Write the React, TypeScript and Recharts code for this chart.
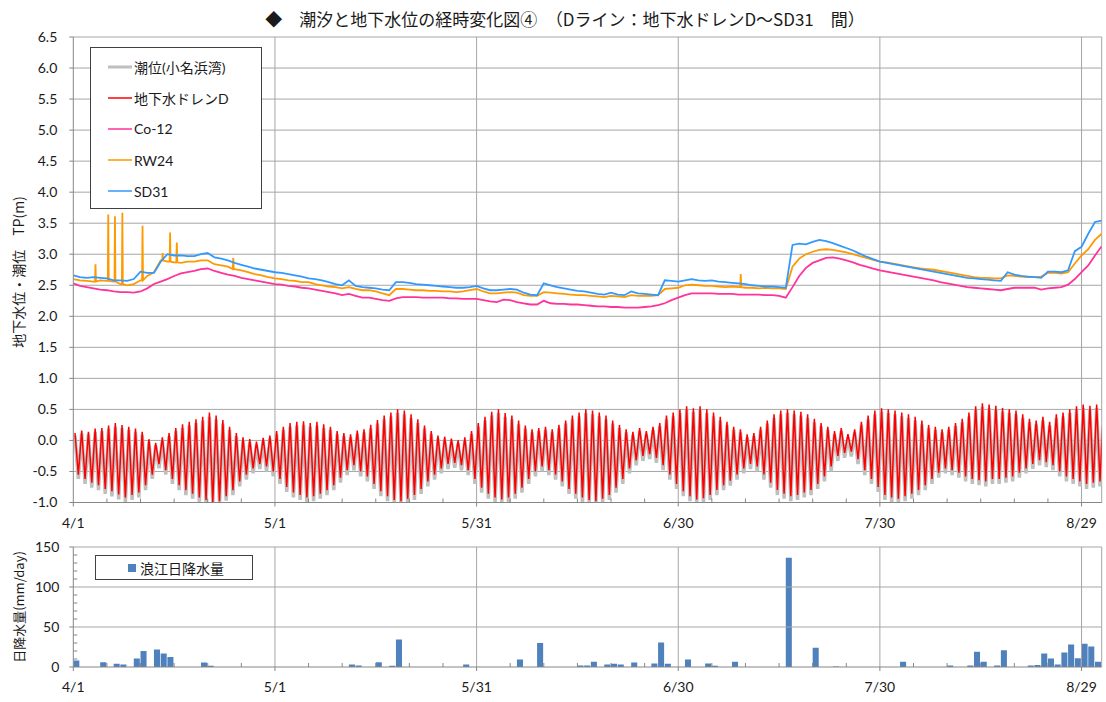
import React from 'react';
import { LineChart, Line, BarChart, Bar, XAxis, YAxis, CartesianGrid, ReferenceLine } from 'recharts';

// days counted from 4/1 (day 0); axis runs to day 153
const majorDays = [0, 30, 60, 90, 120, 150];
const dateLabels = ['4/1', '5/1', '5/31', '6/30', '7/30', '8/29'];
const minorDays = [0, 5, 10, 15, 20, 25, 30, 35, 40, 45, 50, 55, 60, 65, 70, 75, 80, 85, 90, 95, 100, 105, 110, 115, 120, 125, 130, 135, 140, 145, 150];
const levelTicks = [-1, -0.5, 0, 0.5, 1, 1.5, 2, 2.5, 3, 3.5, 4, 4.5, 5, 5.5, 6, 6.5];
const rainTicks = [0, 10, 20, 30, 40, 50, 60, 70, 80, 90, 100, 110, 120, 130, 140, 150];

// 地下水ドレンD: daily high / low (m)
const drainHigh = [
  0.12, 0.16, 0.14, 0.19, 0.2, 0.24, 0.28, 0.25, 0.22, 0.19,
  0.14, 0.02, -0.04, 0.05, 0.12, 0.2, 0.26, 0.3, 0.34, 0.38,
  0.45, 0.4, 0.33, 0.22, 0.12, 0.05, 0.02, -0.02, 0.04, 0.08,
  0.15, 0.22, 0.28, 0.3, 0.31, 0.28, 0.3, 0.26, 0.22, 0.15,
  0.12, 0.1, 0.16, 0.18, 0.25, 0.33, 0.4, 0.45, 0.5, 0.48,
  0.42, 0.34, 0.24, 0.15, 0.08, 0.06, 0.03, 0.0, 0.05, 0.15,
  0.28, 0.38, 0.46, 0.5, 0.44, 0.4, 0.32, 0.24, 0.18, 0.2,
  0.22, 0.18, 0.25, 0.32, 0.4, 0.45, 0.5, 0.48, 0.45, 0.4,
  0.32, 0.25, 0.18, 0.14, 0.2, 0.15, 0.22, 0.28, 0.4, 0.45,
  0.5, 0.55, 0.52, 0.55, 0.5, 0.45, 0.38, 0.3, 0.22, 0.18,
  0.1, 0.12, 0.22, 0.32, 0.42, 0.48, 0.5, 0.48, 0.46, 0.42,
  0.35, 0.28, 0.22, 0.15, 0.2, 0.1, 0.18, 0.3, 0.4, 0.48,
  0.52, 0.5, 0.48, 0.45, 0.42, 0.38, 0.32, 0.25, 0.22, 0.18,
  0.22, 0.28, 0.35, 0.45, 0.55, 0.6, 0.58, 0.56, 0.52, 0.5,
  0.48, 0.42, 0.35, 0.32, 0.38, 0.3, 0.42, 0.45, 0.5, 0.55,
  0.58, 0.56, 0.58, 0.5,
];
const drainLow = [
  -0.55, -0.62, -0.68, -0.72, -0.78, -0.82, -0.87, -0.92, -0.88, -0.84,
  -0.72, -0.55, -0.38, -0.48, -0.62, -0.72, -0.8, -0.86, -0.92, -0.96,
  -1.0, -0.98, -0.9, -0.8, -0.66, -0.55, -0.45, -0.38, -0.42, -0.5,
  -0.62, -0.75, -0.84, -0.88, -0.92, -0.9, -0.86, -0.8, -0.72, -0.6,
  -0.48, -0.4, -0.5, -0.58, -0.7, -0.82, -0.9, -0.96, -0.98, -0.94,
  -0.88, -0.78, -0.66, -0.55, -0.45, -0.38, -0.36, -0.4, -0.48, -0.62,
  -0.76, -0.86, -0.92, -0.95, -0.92, -0.86, -0.76, -0.62, -0.5, -0.42,
  -0.48, -0.55, -0.66, -0.78, -0.86, -0.92, -0.96, -0.98, -0.94, -0.88,
  -0.76, -0.62, -0.45, -0.32, -0.25, -0.22, -0.28, -0.4, -0.55, -0.7,
  -0.82, -0.9, -0.95, -0.93, -0.88, -0.8, -0.72, -0.65, -0.55, -0.45,
  -0.38, -0.42, -0.55, -0.68, -0.8, -0.86, -0.9, -0.88, -0.84, -0.8,
  -0.7, -0.58, -0.42, -0.25, -0.2, -0.18, -0.3, -0.48, -0.62, -0.75,
  -0.88, -0.92, -0.94, -0.9, -0.86, -0.8, -0.72, -0.62, -0.52, -0.45,
  -0.48, -0.52, -0.58, -0.62, -0.64, -0.66, -0.62, -0.62, -0.6, -0.58,
  -0.52, -0.45, -0.38, -0.32, -0.35, -0.4, -0.5, -0.58, -0.62, -0.66,
  -0.7, -0.68, -0.66, -0.55,
];

// 潮位(小名浜湾): daily high / low (m)
const tideHigh = [
  0.08, 0.11, 0.1, 0.14, 0.15, 0.19, 0.22, 0.2, 0.17, 0.14,
  0.09, -0.02, -0.08, 0.0, 0.07, 0.15, 0.2, 0.24, 0.28, 0.32,
  0.38, 0.34, 0.27, 0.17, 0.07, 0.0, -0.03, -0.07, -0.01, 0.03,
  0.1, 0.17, 0.22, 0.24, 0.25, 0.22, 0.24, 0.2, 0.17, 0.1,
  0.07, 0.05, 0.11, 0.13, 0.19, 0.27, 0.34, 0.39, 0.44, 0.42,
  0.36, 0.28, 0.19, 0.1, 0.03, 0.01, -0.02, -0.05, 0.0, 0.1,
  0.22, 0.32, 0.4, 0.44, 0.38, 0.34, 0.26, 0.19, 0.13, 0.15,
  0.17, 0.13, 0.2, 0.27, 0.34, 0.39, 0.44, 0.42, 0.39, 0.34,
  0.27, 0.2, 0.13, 0.09, 0.15, 0.1, 0.17, 0.23, 0.34, 0.39,
  0.44, 0.49, 0.46, 0.49, 0.44, 0.39, 0.32, 0.25, 0.17, 0.13,
  0.05, 0.07, 0.17, 0.27, 0.36, 0.42, 0.44, 0.42, 0.4, 0.36,
  0.29, 0.23, 0.17, 0.1, 0.15, 0.05, 0.13, 0.25, 0.34, 0.42,
  0.46, 0.44, 0.42, 0.39, 0.36, 0.32, 0.26, 0.2, 0.17, 0.13,
  0.17, 0.23, 0.29, 0.39, 0.49, 0.54, 0.52, 0.5, 0.46, 0.44,
  0.42, 0.36, 0.29, 0.26, 0.32, 0.24, 0.36, 0.39, 0.44, 0.49,
  0.52, 0.5, 0.52, 0.44,
];
const tideLow = [
  -0.62, -0.7, -0.76, -0.8, -0.86, -0.9, -0.95, -0.99, -0.96, -0.92,
  -0.8, -0.62, -0.45, -0.55, -0.7, -0.8, -0.88, -0.94, -0.99, -1.0,
  -1.0, -1.0, -0.97, -0.88, -0.74, -0.63, -0.53, -0.46, -0.5, -0.58,
  -0.7, -0.83, -0.92, -0.96, -1.0, -0.98, -0.94, -0.88, -0.8, -0.68,
  -0.56, -0.48, -0.58, -0.66, -0.78, -0.9, -0.98, -1.0, -1.0, -1.0,
  -0.96, -0.86, -0.74, -0.63, -0.53, -0.46, -0.44, -0.48, -0.56, -0.7,
  -0.84, -0.94, -1.0, -1.0, -1.0, -0.94, -0.84, -0.7, -0.58, -0.5,
  -0.56, -0.63, -0.74, -0.86, -0.94, -1.0, -1.0, -1.0, -1.0, -0.96,
  -0.84, -0.7, -0.53, -0.4, -0.33, -0.3, -0.36, -0.48, -0.63, -0.78,
  -0.9, -0.98, -1.0, -1.0, -0.96, -0.88, -0.8, -0.73, -0.63, -0.53,
  -0.46, -0.5, -0.63, -0.76, -0.88, -0.94, -0.98, -0.96, -0.92, -0.88,
  -0.78, -0.66, -0.5, -0.33, -0.28, -0.26, -0.38, -0.56, -0.7, -0.83,
  -0.96, -1.0, -1.0, -0.98, -0.94, -0.88, -0.8, -0.7, -0.6, -0.53,
  -0.56, -0.6, -0.66, -0.7, -0.72, -0.74, -0.7, -0.7, -0.68, -0.66,
  -0.6, -0.53, -0.46, -0.4, -0.43, -0.48, -0.58, -0.66, -0.7, -0.74,
  -0.78, -0.76, -0.74, -0.63,
];

// groundwater, daily (TP m)
const co12 = [
  2.53, 2.49, 2.47, 2.45, 2.43, 2.42, 2.4, 2.39, 2.39, 2.38,
  2.4, 2.45, 2.52, 2.56, 2.6, 2.65, 2.69, 2.71, 2.73, 2.76,
  2.77, 2.73, 2.7, 2.67, 2.65, 2.62, 2.6, 2.58, 2.56, 2.54,
  2.52, 2.51, 2.49, 2.48, 2.46, 2.45, 2.43, 2.41, 2.39, 2.37,
  2.34, 2.36, 2.33, 2.3, 2.3, 2.28, 2.26, 2.25, 2.29, 2.31,
  2.31, 2.31, 2.3, 2.3, 2.3, 2.3, 2.29, 2.29, 2.28, 2.28,
  2.28, 2.26, 2.24, 2.23, 2.27, 2.26, 2.23, 2.21, 2.19, 2.19,
  2.25, 2.21, 2.2, 2.2, 2.19, 2.19, 2.18, 2.17, 2.16, 2.16,
  2.15, 2.15, 2.14, 2.14, 2.14, 2.15, 2.16, 2.18, 2.21, 2.26,
  2.3, 2.34, 2.37, 2.37, 2.37, 2.37, 2.36, 2.36, 2.36, 2.35,
  2.35, 2.35, 2.35, 2.34, 2.34, 2.33, 2.3, 2.47, 2.65, 2.78,
  2.86, 2.9, 2.94, 2.95, 2.93, 2.9, 2.87, 2.83, 2.8, 2.77,
  2.74, 2.72, 2.7, 2.68, 2.66, 2.64, 2.62, 2.6, 2.58, 2.55,
  2.53, 2.51, 2.49, 2.47, 2.46, 2.45, 2.44, 2.43, 2.42, 2.44,
  2.46, 2.46, 2.46, 2.46, 2.43, 2.45, 2.46, 2.47, 2.51, 2.6,
  2.71, 2.82, 2.98, 3.13,
];
const rw24 = [
  2.6, 2.58, 2.57, 2.56, 2.58, 2.57, 2.56, 2.52, 2.5, 2.52,
  2.58, 2.65, 2.71, 2.9, 2.88, 2.87, 2.86, 2.88, 2.88, 2.9,
  2.9, 2.84, 2.82, 2.8, 2.76, 2.74, 2.71, 2.68, 2.66, 2.63,
  2.61, 2.6, 2.58, 2.57, 2.55, 2.55, 2.52, 2.5, 2.48, 2.47,
  2.45, 2.47, 2.44, 2.42, 2.42, 2.4, 2.37, 2.34, 2.44, 2.44,
  2.43, 2.42, 2.42, 2.41, 2.41, 2.4, 2.4, 2.39, 2.4, 2.42,
  2.44, 2.4, 2.37, 2.37, 2.38, 2.39, 2.38, 2.34, 2.33, 2.33,
  2.39, 2.38, 2.37, 2.36, 2.35, 2.34, 2.34, 2.33, 2.32, 2.31,
  2.33, 2.32, 2.31, 2.34, 2.33, 2.33, 2.33, 2.34, 2.44, 2.45,
  2.46, 2.5, 2.51, 2.5, 2.49, 2.49, 2.48, 2.47, 2.48, 2.47,
  2.46, 2.46, 2.45, 2.46, 2.45, 2.45, 2.44, 2.8, 2.93, 3.0,
  3.04, 3.07, 3.08, 3.07, 3.05, 3.03, 3.0, 2.97, 2.94, 2.91,
  2.88, 2.87, 2.85, 2.83, 2.81, 2.79, 2.77, 2.76, 2.75, 2.73,
  2.71, 2.69, 2.67, 2.65, 2.63, 2.62, 2.62, 2.61, 2.61, 2.66,
  2.65, 2.64, 2.63, 2.63, 2.64, 2.7, 2.7, 2.69, 2.71, 2.85,
  2.98, 3.08, 3.23, 3.33,
];
const rw24SpikeDays = [3.3, 5.2, 6.2, 7.3, 10.3, 13.3, 14.4, 15.4, 23.8, 99.3];
const rw24SpikeValues = [2.84, 3.64, 3.61, 3.67, 3.46, 3.02, 3.35, 3.19, 2.94, 2.68];
const sd31 = [
  2.66, 2.63, 2.62, 2.63, 2.62, 2.61, 2.58, 2.58, 2.57, 2.6,
  2.72, 2.7, 2.7, 2.88, 3.0, 2.98, 2.98, 2.97, 2.97, 3.0,
  3.02, 2.95, 2.93, 2.9, 2.86, 2.83, 2.8, 2.77, 2.75, 2.73,
  2.71, 2.7, 2.68, 2.66, 2.64, 2.61, 2.6, 2.58, 2.55, 2.52,
  2.5, 2.58, 2.49, 2.47, 2.46, 2.45, 2.43, 2.42, 2.55, 2.55,
  2.54, 2.52, 2.51, 2.5, 2.49, 2.48, 2.47, 2.46, 2.46, 2.47,
  2.49, 2.45, 2.42, 2.42, 2.43, 2.44, 2.43, 2.38, 2.35, 2.34,
  2.53, 2.5, 2.47, 2.45, 2.43, 2.41, 2.4, 2.38, 2.36, 2.35,
  2.38, 2.35, 2.34, 2.4, 2.37, 2.36, 2.35, 2.34, 2.58, 2.57,
  2.56, 2.58, 2.6, 2.58, 2.57, 2.58, 2.56, 2.55, 2.54, 2.53,
  2.52, 2.5, 2.49, 2.48, 2.48, 2.47, 2.46, 3.15, 3.17, 3.16,
  3.2, 3.23, 3.21, 3.18, 3.14, 3.1, 3.06, 3.01, 2.96, 2.92,
  2.88, 2.86, 2.84, 2.82, 2.8, 2.78, 2.76, 2.74, 2.72, 2.7,
  2.68, 2.66, 2.64, 2.62, 2.61, 2.6, 2.59, 2.58, 2.57, 2.71,
  2.67, 2.65, 2.64, 2.63, 2.62, 2.72, 2.72, 2.71, 2.74, 3.05,
  3.12, 3.33, 3.52, 3.54,
];

// 浪江日降水量 (mm/day)
const rainDays = [0, 4, 6, 7, 9, 10, 12, 13, 14, 19, 20, 41, 42, 45, 47, 48, 58, 66, 69, 75, 76, 77, 79, 80, 81, 83, 86, 87, 88, 91, 94, 95, 98, 106, 110, 113, 123, 130, 133, 134, 135, 137, 138, 142, 143, 144, 145, 146, 147, 148, 149, 150, 151, 152, 153];
const rainMm = [8, 6, 4, 3, 10.5, 20, 22, 17, 12.5, 5.5, 1.5, 3, 2, 6, 1.5, 34.5, 3, 9.5, 30, 2, 2, 6.5, 3, 4, 3, 5.5, 4.5, 30.5, 4, 9.5, 4.5, 1.5, 6.5, 136.5, 24, 0.5, 6.5, 2, 2, 19, 6.5, 2, 21, 2, 2.5, 17, 10.5, 3, 18, 28, 11, 29, 25.5, 6.5, 1];

const NUM_FONT = "Lato, 'Noto Sans CJK JP', sans-serif";
const JP_FONT = "'Noto Sans CJK JP', sans-serif";
const GRID = '#A6A6A6';
const AXIS = '#868686';
const TEXT = '#1a1a1a';

const drainData = drainHigh.flatMap((h, d) => [{ x: d + 0.25, y: h }, { x: d + 0.75, y: drainLow[d] }]);
const tideData = tideHigh.flatMap((h, d) => [{ x: d + 0.25, y: h }, { x: d + 0.75, y: tideLow[d] }]);
const co12Data = co12.map((v, d) => ({ x: d, y: v }));
const sd31Data = sd31.map((v, d) => ({ x: d, y: v }));
const rw24Data = rw24.map((v, d) => ({ x: d, y: v }));
rw24SpikeDays.forEach((d, k) => {
  const base = rw24[Math.round(d)];
  rw24Data.push({ x: d - 0.07, y: base }, { x: d, y: rw24SpikeValues[k] }, { x: d + 0.07, y: base });
});
rw24Data.sort((a, b) => a.x - b.x);
const rainData = rainDays.map((d, i) => ({ x: d + 0.5, mm: rainMm[i] }));

const DateTick = (props: any) => {
  const { x, y, payload } = props;
  const idx = majorDays.indexOf(payload.value);
  if (idx < 0) return <line x1={x} x2={x} y1={y} y2={y - 4} stroke={AXIS} />;
  return (
    <g>
      <line x1={x} x2={x} y1={y} y2={y + 4} stroke={AXIS} />
      <text x={x} y={y + 25} textAnchor="middle" fontSize={14} fill={TEXT} fontFamily={NUM_FONT}>
        {dateLabels[idx]}
      </text>
    </g>
  );
};

const RainTick = (props: any) => {
  const { x, y, payload } = props;
  const v = payload.value;
  if (v % 50 !== 0) return <line x1={x} x2={x + 4} y1={y} y2={y} stroke={AXIS} />;
  return (
    <g>
      <line x1={x - 4} x2={x} y1={y} y2={y} stroke={AXIS} />
      <text x={x - 14} y={y} dy="0.36em" textAnchor="end" fontSize={14} fill={TEXT} fontFamily={NUM_FONT}>
        {v}
      </text>
    </g>
  );
};

const legendItems = [
  { name: '潮位(小名浜湾)', color: '#BFBFBF', width: 3 },
  { name: '地下水ドレンD', color: '#FF0000', width: 1.5 },
  { name: 'Co-12', color: '#FF3399', width: 1.5 },
  { name: 'RW24', color: '#FF9900', width: 1.5 },
  { name: 'SD31', color: '#3399FF', width: 1.5 },
];

export default function App() {
  return (
    <div style={{ position: 'absolute', left: 0, top: 0, width: 1106, height: 702, background: '#fff', fontFamily: JP_FONT }}>
      <div style={{ position: 'absolute', left: 0, width: 1130, top: 6, textAlign: 'center', fontSize: 17, color: TEXT, whiteSpace: 'pre' }}>
        {'◆　潮汐と地下水位の経時変化図④　（Dライン：地下水ドレンD～SD31　間）'}
      </div>

      <div style={{ position: 'absolute', left: 0, top: 0 }}>
        <LineChart width={1106} height={535} margin={{ top: 37, right: 4.3, left: 0, bottom: 0 }}>
          <CartesianGrid vertical={false} stroke={GRID} />
          <XAxis
            type="number"
            dataKey="x"
            domain={[0, 153]}
            ticks={minorDays}
            interval={0}
            tickSize={0}
            tickMargin={0}
            tickLine={false}
            tick={<DateTick />}
            stroke={AXIS}
            height={32.5}
            allowDataOverflow
          />
          <YAxis
            type="number"
            domain={[-1, 6.5]}
            ticks={levelTicks}
            interval={0}
            width={73.3}
            tickSize={4}
            tickMargin={12}
            stroke={AXIS}
            tickFormatter={(v: number) => v.toFixed(1)}
            tick={{ fontSize: 14, fill: TEXT, fontFamily: NUM_FONT }}
            allowDataOverflow
          />
          {majorDays.slice(1).map((d) => (
            <ReferenceLine key={d} x={d} stroke={GRID} />
          ))}
          <ReferenceLine x={153} stroke={GRID} />
          <Line data={tideData} dataKey="y" stroke="#BFBFBF" strokeWidth={3.5} dot={false} isAnimationActive={false} />
          <Line data={drainData} dataKey="y" stroke="#FF0000" strokeWidth={1.5} dot={false} isAnimationActive={false} />
          <Line data={co12Data} dataKey="y" stroke="#FF3399" strokeWidth={1.8} dot={false} isAnimationActive={false} />
          <Line data={rw24Data} dataKey="y" stroke="#FF9900" strokeWidth={1.8} dot={false} isAnimationActive={false} />
          <Line data={sd31Data} dataKey="y" stroke="#3399FF" strokeWidth={1.8} dot={false} isAnimationActive={false} />
        </LineChart>
      </div>

      <div
        style={{
          position: 'absolute', left: 18, top: 272, transform: 'translate(-50%, -50%) rotate(-90deg)',
          fontSize: 14, color: TEXT, whiteSpace: 'pre',
        }}
      >
        {'地下水位・潮位　TP(m)'}
      </div>

      <div
        style={{
          position: 'absolute', left: 90, top: 47, width: 172, height: 162, boxSizing: 'border-box',
          border: '1px solid #404040', background: '#fff', paddingTop: 3,
        }}
      >
        {legendItems.map((it) => (
          <div key={it.name} style={{ display: 'flex', alignItems: 'center', height: 31.2, paddingLeft: 17 }}>
            <svg width={24} height={6} style={{ marginRight: 2 }}>
              <line x1={0} x2={24} y1={3} y2={3} stroke={it.color} strokeWidth={it.width} />
            </svg>
            <span style={{ fontSize: 14, color: TEXT, fontFamily: NUM_FONT }}>{it.name}</span>
          </div>
        ))}
      </div>

      <div style={{ position: 'absolute', left: 0, top: 530 }}>
        <BarChart width={1106} height={172} data={rainData} margin={{ top: 17, right: 4.3, left: 0, bottom: 0 }}>
          <XAxis
            type="number"
            dataKey="x"
            domain={[0, 153]}
            ticks={minorDays}
            interval={0}
            tickSize={0}
            tickMargin={0}
            tickLine={false}
            tick={<DateTick />}
            stroke={AXIS}
            height={35}
            allowDataOverflow
          />
          <YAxis
            type="number"
            domain={[0, 150]}
            ticks={rainTicks}
            interval={0}
            width={73.3}
            tickSize={0}
            tickMargin={0}
            tickLine={false}
            tick={<RainTick />}
            stroke={AXIS}
          />
          {[50, 100, 150].map((v) => (
            <ReferenceLine key={v} y={v} stroke={GRID} />
          ))}
          {majorDays.slice(1).map((d) => (
            <ReferenceLine key={d} x={d} stroke={GRID} />
          ))}
          <ReferenceLine x={153} stroke={GRID} />
          <Bar dataKey="mm" fill="#4F81BD" barSize={7} isAnimationActive={false} />
        </BarChart>
      </div>

      <div
        style={{
          position: 'absolute', left: 18, top: 607, transform: 'translate(-50%, -50%) rotate(-90deg)',
          fontSize: 13, color: TEXT, whiteSpace: 'pre',
        }}
      >
        日降水量(mm/day)
      </div>

      <div
        style={{
          position: 'absolute', left: 95, top: 555, width: 158, height: 25, boxSizing: 'border-box',
          border: '1px solid #404040', background: '#fff', display: 'flex', alignItems: 'center', paddingLeft: 32,
        }}
      >
        <div style={{ width: 8, height: 8, background: '#4F81BD', marginRight: 4 }} />
        <span style={{ fontSize: 14, color: TEXT }}>浪江日降水量</span>
      </div>
    </div>
  );
}
